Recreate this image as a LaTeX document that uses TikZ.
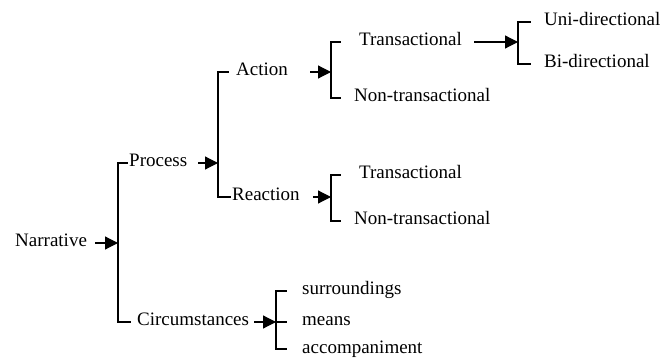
\documentclass[tikz,border=0pt]{standalone}
\usepackage{fontspec}
\setmainfont{Liberation Serif}
\usetikzlibrary{arrows.meta}
\tikzstyle{lbl} = [anchor=west, inner sep=1pt, text height=12pt, text depth=4pt, font=\fontsize{19}{22}\selectfont]
\tikzstyle{brk} = [line width=1.2pt]
\tikzstyle{arrow} = [line width=1.2pt, -{Triangle[length=13pt,width=13pt]}]

\begin{document}
\begin{tikzpicture}[x=1pt, y=-1pt]
    \useasboundingbox (0,0) rectangle (662,358);
    % labels
    \node (nar) [lbl] at (14,243) {Narrative};
    \node (proc) [lbl] at (128,163) {Process};
    \node (circ) [lbl] at (136,322) {Circumstances};
    \node (act) [lbl] at (235,72) {Action};
    \node (react) [lbl] at (231,197) {Reaction};
    \node (tr1) [lbl] at (358,42) {Transactional};
    \node (nt1) [lbl] at (353,98) {Non-transactional};
    \node (tr2) [lbl] at (358,175) {Transactional};
    \node (nt2) [lbl] at (353,221) {Non-transactional};
    \node (uni) [lbl] at (543,22) {Uni-directional};
    \node (bi) [lbl] at (543,64) {Bi-directional};
    \node (sur) [lbl] at (301,291) {surroundings};
    \node (mea) [lbl] at (301,322) {means};
    \node (acc) [lbl] at (301,349) {accompaniment};

    % bracket points
    \coordinate (b0) at (118,243);
    \coordinate (b1) at (218,163);
    \coordinate (b2) at (331,72);
    \coordinate (b3) at (331,197);
    \coordinate (b4) at (518,42);
    \coordinate (b5) at (276,322);

    \draw [brk] (b0) |- (proc.west);
    \draw [brk, shorten >=5pt] (b0) |- (circ.west);
    \draw [brk, shorten >=6pt] (b1) |- (act.west);
    \draw [brk] (b1) |- (react.west);
    \draw [brk, shorten >=17pt] (b2) |- (tr1.west);
    \draw [brk, shorten >=12pt] (b2) |- (nt1.west);
    \draw [brk, shorten >=17pt] (b3) |- (tr2.west);
    \draw [brk, shorten >=12pt] (b3) |- (nt2.west);
    \draw [brk, shorten >=12pt] (b4) |- (uni.west);
    \draw [brk, shorten >=12pt] (b4) |- (bi.west);
    \draw [brk, shorten >=14pt] (b5) |- (sur.west);
    \draw [brk, shorten >=14pt] (b5) -- (mea.west);
    \draw [brk, shorten >=14pt] (b5) |- (acc.west);

    \draw [arrow, shorten <=7pt] (nar.east) -- (b0);
    \draw [arrow, shorten <=10pt] (proc.east) -- (b1);
    \draw [arrow, shorten <=21pt] (act.east) -- (b2);
    \draw [arrow, shorten <=12pt] (react.east) -- (b3);
    \draw [arrow, shorten <=4pt] (circ.east) -- (b5);
    \draw [arrow, shorten <=11pt] (tr1.east) -- (b4);
\end{tikzpicture}
\end{document}
